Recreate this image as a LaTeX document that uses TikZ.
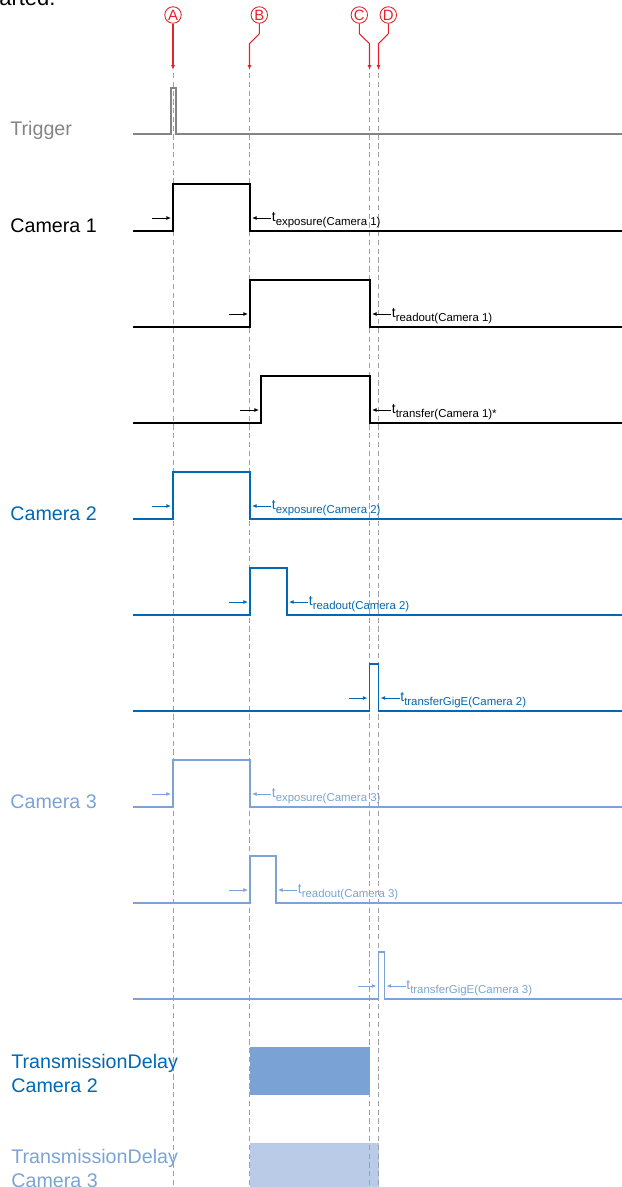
\documentclass[tikz,border=0pt]{standalone}
\usepackage{fontspec}
\setmainfont{Liberation Sans}
\usepackage{xcolor}
\usepackage{tikz}
\usetikzlibrary{positioning,arrows.meta}

\definecolor{trig}{RGB}{132,132,132}
\definecolor{camtwo}{RGB}{0,104,180}
\definecolor{camthree}{RGB}{124,163,214}
\definecolor{delaytwo}{RGB}{123,162,212}
\definecolor{delaythree}{RGB}{186,203,232}
\definecolor{markred}{RGB}{232,32,44}
\definecolor{guidegray}{RGB}{160,160,160}

\newcommand{\tsub}[1]{{\fontsize{8}{9}\selectfont t}\raisebox{-2.6pt}{\fontsize{6.5}{7}\selectfont #1}}

\begin{document}
\begin{tikzpicture}[
      x=0.02cm, y=-0.02cm,
      trace/.style={line width=1.1pt, line join=miter},
      dim/.style={-{Latex[length=2.6pt,width=2.2pt]}, line width=0.5pt},
      guide/.style={draw=guidegray, line width=0.55pt, dash pattern=on 3pt off 2pt},
      marker/.style={circle, draw=markred, text=markred, line width=0.5pt,
                     inner sep=0pt, minimum size=0.33cm, font=\fontsize{8.5}{9}\selectfont},
      redarrow/.style={-{Latex[length=2.8pt,width=2.2pt]}, draw=markred, line width=0.6pt},
      lbl/.style={anchor=base west, inner sep=0pt, font=\fontsize{11.2}{13.6}\selectfont},
      twolbl/.style={anchor=north west, inner sep=0pt, align=left,
                     font=\fontsize{11.2}{13.6}\selectfont},
      dlbl/.style={anchor=base west, inner sep=0pt},
    ]
    \useasboundingbox (0,0) rectangle (622,1187);

    % cut heading
    \node[dlbl, font=\fontsize{12.5}{14}\selectfont] (head) at (-1,5) {arted.};

    % transmission delays
    \fill[delaytwo] (249.5,1047) rectangle (369.5,1095);
    \fill[delaythree] (249.5,1143) rectangle (378.5,1192);

    % time marks
    \foreach \n/\x in {A/173,B/249.5,C/369.5,D/378.5}
      \coordinate (t\n) at (\x,70);
    \foreach \n in {A,B,C,D}
      \draw[guide] (t\n) ++(0,3) -- ++(0,1120);

    \node[marker] (mA) at (173,15) {A};
    \node[marker] (mB) at (259.3,15) {B};
    \node[marker] (mC) at (359.3,15) {C};
    \node[marker] (mD) at (388.3,15) {D};
    \draw[redarrow] (mA) -- (tA);
    \draw[redarrow] (mB.south) -- ++(0,10) -- ++(-9.8,10) -- (tB);
    \draw[redarrow] (mC.south) -- ++(0,10) -- ++(10.2,10) -- (tC);
    \draw[redarrow] (mD.south) -- ++(0,10) -- ++(-9.8,10) -- (tD);

    % row labels
    \node[lbl, text=trig] (trig) at (10,135.5) {Trigger};
    \node[lbl] (cam1) at (10,232) {Camera 1};
    \node[lbl, text=camtwo] (cam2) at (10,520) {Camera 2};
    \node[lbl, text=camthree] (cam3) at (10,808) {Camera 3};
    \node[twolbl, text=camtwo] (td2) at (11,1053.5) {TransmissionDelay\\Camera 2};
    \node[twolbl, text=camthree] (td3) at (11,1148.5) {TransmissionDelay\\Camera 3};

    % trigger pulse
    \draw[trace, trig, line width=0.85pt] (133,134) -- (171,134) -- (171,88)
      -- (176,88) -- (176,134) -- (622,134);

    % camera signals
    \foreach \c/\y/\r/\f/\s in {
        black/231/173/250/exposure(Camera 1),
        black/327/250/370/readout(Camera 1),
        black/423/261/370/transfer(Camera 1)*,
        camtwo/519/173/250/exposure(Camera 2),
        camtwo/615/250/287/readout(Camera 2),
        camtwo/711/369.5/378.5/transferGigE(Camera 2),
        camthree/807/173/250/exposure(Camera 3),
        camthree/903/250/276/readout(Camera 3),
        camthree/999/378.5/384.5/transferGigE(Camera 3)} {
      \draw[trace, \c] (133,\y) -- (\r,\y) -- (\r,\y-47) -- (\f,\y-47)
        -- (\f,\y) -- (622,\y);
      \draw[dim, \c] (\r-21,\y-13) -- (\r-2,\y-13);
      \draw[dim, \c] (\f+21,\y-13) -- (\f+2,\y-13);
      \node[dlbl, text=\c] (d\y) at (\f+21.5,\y-10) {\tsub{\s}};
    }
  \end{tikzpicture}
\end{document}
